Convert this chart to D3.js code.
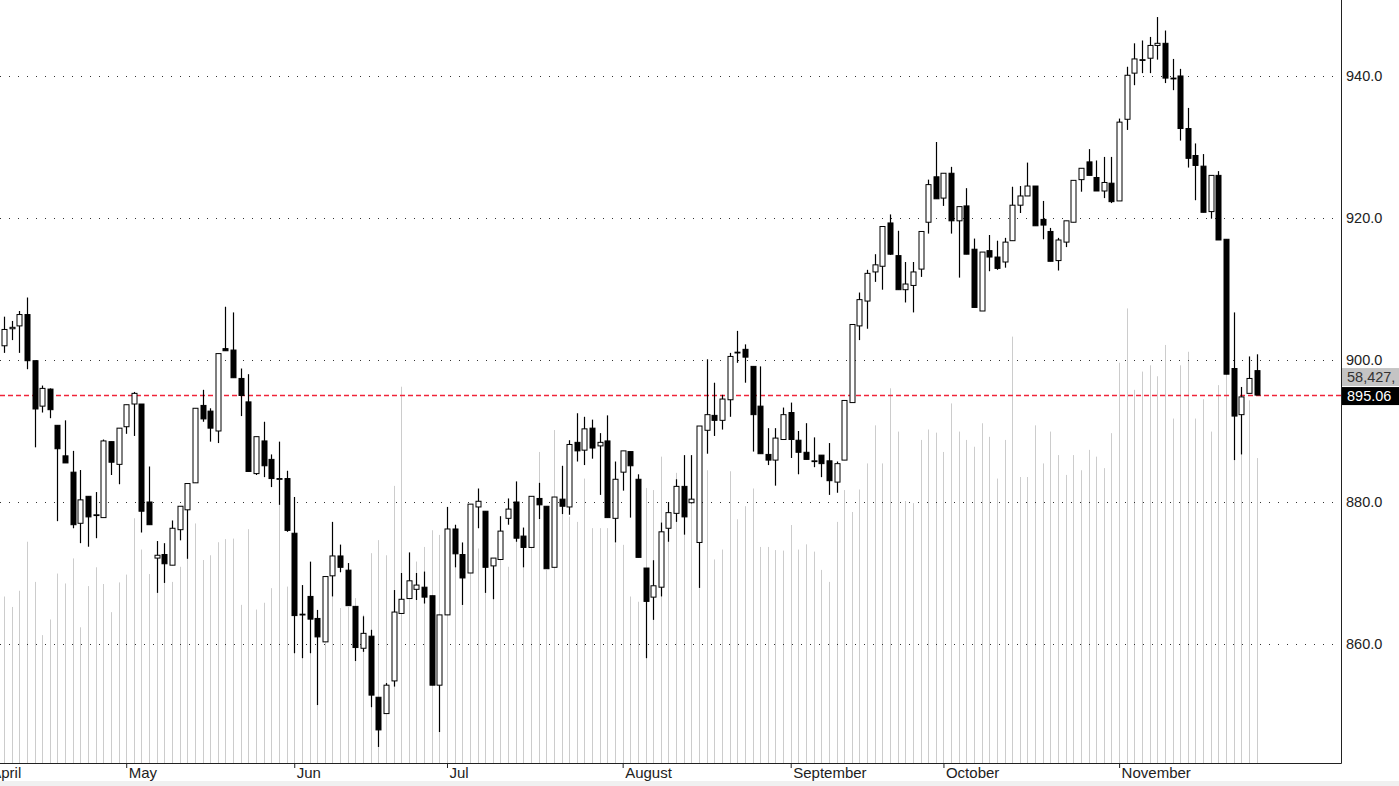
<!DOCTYPE html>
<html>
<head>
<meta charset="utf-8">
<script src="https://cdn.jsdelivr.net/npm/d3@7"></script>
<style>
  html, body { margin: 0; padding: 0; background: #ffffff; }
  svg { display: block; }
  text { font-family: "Liberation Sans", Arial, sans-serif; }
</style>
</head>
<body>
<svg id="chart" width="1399" height="786"></svg>
<script>
// ---------------- DATA ----------------
const monthLabels = ["April", "May", "Jun", "Jul", "August", "September", "October", "November"];
const monthStartIndex = [-2, 16, 38, 58, 81, 103, 123, 146];
const priceTicks = [860, 880, 900, 920, 940];

const opens = [
  902.0, 904.4, 904.8, 906.4, 899.9, 893.5, 895.9, 890.8, 886.5, 884.2,
  877.0, 880.8, 878.2, 877.8, 888.5, 885.3, 890.6, 893.8, 893.8, 880.0,
  872.1, 872.6, 871.1, 876.1, 878.9, 882.7, 893.6, 892.8, 890.0, 901.6,
  901.4, 897.4, 894.1, 884.0, 888.6, 886.0, 883.3, 883.3, 875.6, 864.2,
  866.7, 863.6, 860.3, 869.6, 872.4, 870.4, 865.3, 859.4, 861.1, 852.5,
  850.2, 854.8, 864.3, 866.4, 867.7, 868.0, 866.8, 854.2, 864.1, 876.2,
  872.6, 870.0, 879.3, 878.7, 871.0, 871.9, 877.7, 880.0, 875.2, 873.6,
  880.5, 879.4, 870.8, 880.4, 879.3, 888.4, 887.3, 890.4, 887.9, 888.6,
  877.7, 884.2, 887.1, 883.2, 870.7, 866.6, 868.0, 876.3, 878.4, 882.2,
  879.9, 874.3, 890.1, 892.2, 891.5, 894.4, 901.1, 901.5, 899.1, 893.5,
  886.7, 885.9, 888.8, 892.6, 888.7, 887.0, 885.8, 886.6, 885.8, 882.8,
  885.9, 894.0, 904.8, 908.3, 912.4, 913.2, 919.3, 914.7, 909.9, 910.5,
  912.8, 919.4, 925.8, 922.8, 926.3, 919.6, 921.7, 915.6, 906.9, 915.4,
  914.5, 913.8, 916.8, 921.8, 923.1, 924.5, 919.8, 918.1, 914.0, 916.6,
  919.4, 925.4, 927.9, 925.7, 923.8, 924.9, 922.4, 933.9, 940.4, 942.3,
  942.5, 944.3, 944.6, 939.7, 940.0, 932.6, 928.8, 927.3, 920.9, 926.0,
  917.0, 898.8, 892.3, 895.3, 898.5
];
const highs = [
  906.1, 905.5, 906.9, 908.8, 899.9, 896.4, 896.0, 890.8, 891.5, 887.2,
  884.5, 880.8, 881.4, 888.8, 888.5, 890.4, 893.7, 895.5, 893.8, 885.0,
  874.5, 874.2, 877.4, 879.4, 882.6, 893.2, 895.8, 893.2, 900.9, 907.5,
  906.7, 898.8, 898.0, 889.2, 891.3, 886.7, 888.5, 884.4, 880.7, 868.3,
  871.6, 864.8, 869.5, 877.2, 874.0, 871.4, 865.3, 863.9, 862.0, 852.5,
  854.5, 867.6, 870.0, 872.9, 870.0, 870.2, 866.8, 864.1, 879.3, 876.8,
  874.3, 879.7, 881.9, 878.7, 872.1, 878.0, 880.5, 882.9, 876.4, 880.8,
  882.7, 879.4, 880.7, 885.1, 888.7, 892.5, 892.0, 891.6, 889.7, 892.2,
  885.7, 887.2, 887.1, 883.9, 870.7, 871.8, 877.1, 880.0, 883.2, 886.6,
  886.6, 890.7, 900.1, 896.8, 895.1, 901.0, 904.1, 902.2, 899.1, 899.1,
  890.4, 890.4, 893.3, 894.0, 890.0, 891.1, 889.1, 886.6, 888.3, 885.7,
  894.3, 905.0, 909.5, 912.7, 914.9, 918.8, 920.5, 918.2, 913.8, 913.8,
  918.1, 925.4, 930.7, 926.3, 927.2, 921.6, 924.2, 917.1, 915.2, 917.6,
  916.8, 917.2, 924.4, 924.5, 927.8, 924.5, 922.4, 918.6, 917.2, 919.6,
  925.3, 927.0, 929.7, 928.1, 928.6, 928.6, 934.0, 941.3, 944.6, 945.0,
  945.5, 948.3, 946.4, 942.4, 941.0, 935.5, 930.5, 929.0, 926.0, 926.6,
  917.0, 906.7, 896.2, 900.5, 900.8
];
const lows = [
  901.0, 902.8, 901.0, 898.7, 887.7, 892.6, 891.8, 877.3, 885.5, 876.3,
  874.2, 873.7, 874.9, 877.8, 883.8, 882.5, 889.6, 889.3, 875.7, 876.8,
  867.2, 868.6, 871.1, 874.6, 872.0, 882.7, 891.3, 888.5, 888.3, 901.3,
  897.5, 892.1, 884.3, 883.8, 883.5, 882.1, 879.6, 875.8, 858.7, 858.0,
  858.7, 851.4, 860.3, 866.7, 870.1, 865.4, 857.6, 858.9, 851.1, 845.5,
  850.2, 854.0, 864.3, 866.4, 866.2, 865.7, 854.2, 847.6, 864.1, 870.8,
  865.5, 870.0, 876.3, 867.2, 866.3, 871.9, 876.8, 874.4, 870.8, 873.6,
  877.6, 870.6, 870.8, 878.3, 878.2, 885.7, 885.2, 886.1, 881.0, 877.8,
  874.3, 881.6, 877.8, 872.2, 858.0, 863.4, 866.7, 874.4, 877.2, 875.4,
  879.8, 867.9, 886.8, 889.3, 890.2, 892.0, 899.6, 896.8, 887.1, 886.8,
  885.2, 882.3, 888.8, 886.2, 883.9, 886.0, 884.9, 883.5, 881.0, 881.3,
  885.9, 894.0, 902.8, 904.4, 911.0, 909.9, 914.8, 909.9, 908.1, 906.7,
  911.7, 917.8, 922.7, 921.7, 917.8, 911.6, 914.9, 907.4, 906.9, 912.5,
  912.7, 913.0, 916.8, 920.7, 923.1, 918.9, 917.0, 913.9, 912.6, 915.9,
  919.4, 923.7, 926.0, 923.8, 922.8, 922.1, 922.4, 932.4, 938.7, 940.4,
  940.4, 942.3, 939.0, 938.0, 930.9, 927.1, 922.5, 920.8, 919.9, 916.9,
  898.0, 885.9, 886.7, 895.3, 895.06
];
const closes = [
  904.3, 904.6, 906.4, 899.9, 893.1, 896.0, 893.0, 887.5, 885.5, 876.8,
  880.3, 877.9, 878.2, 888.6, 885.6, 890.4, 893.7, 895.3, 878.7, 876.8,
  872.5, 871.3, 876.3, 879.4, 882.6, 893.2, 891.7, 890.4, 900.9, 901.3,
  897.5, 895.0, 884.3, 889.2, 885.1, 883.3, 883.3, 876.0, 864.0, 864.2,
  863.5, 861.0, 869.5, 872.4, 870.8, 865.4, 859.5, 861.5, 852.8, 847.9,
  854.2, 864.5, 866.3, 868.9, 868.3, 866.6, 854.2, 864.1, 876.2, 872.7,
  869.3, 879.7, 880.1, 870.8, 872.1, 875.9, 879.0, 874.9, 873.6, 880.8,
  879.6, 870.6, 880.7, 879.4, 888.1, 887.2, 890.3, 887.6, 888.4, 877.8,
  883.2, 887.2, 885.1, 872.2, 866.0, 868.2, 875.8, 878.5, 882.2, 877.9,
  880.4, 890.7, 892.3, 891.5, 894.5, 900.5, 901.1, 900.4, 892.3, 886.8,
  885.9, 889.0, 892.3, 888.8, 887.0, 886.0, 885.8, 885.4, 883.0, 885.4,
  894.3, 905.0, 908.5, 912.2, 913.4, 918.8, 914.9, 909.9, 910.7, 912.4,
  918.1, 924.7, 922.7, 926.3, 919.6, 921.6, 914.9, 907.4, 915.2, 914.5,
  912.9, 916.6, 921.8, 923.1, 924.5, 918.9, 919.0, 913.9, 916.9, 919.6,
  925.3, 927.0, 926.0, 923.8, 925.0, 922.3, 933.5, 940.1, 942.4, 942.3,
  944.3, 944.6, 939.7, 939.7, 932.6, 928.4, 927.4, 920.8, 926.0, 916.9,
  898.0, 892.1, 894.8, 897.4, 895.06
];
// volume, millions of shares
const volumes = [
  31.9, 29.9, 33.0, 42.4, 34.7, 24.5, 27.5, 36.3, 34.4, 39.2,
  26.0, 33.9, 37.5, 34.3, 28.9, 34.6, 36.1, 46.9, 40.9, 36.2,
  35.1, 37.9, 34.7, 37.6, 40.7, 45.9, 38.9, 39.8, 42.3, 42.9,
  43.0, 30.3, 44.8, 29.4, 30.7, 33.5, 51.3, 33.8, 51.0, 32.6,
  29.9, 27.4, 29.3, 35.4, 29.7, 29.9, 31.6, 28.4, 40.2, 42.7,
  39.8, 53.1, 72.1, 40.2, 38.6, 41.4, 44.6, 43.7, 49.1, 42.4,
  42.2, 41.8, 41.1, 39.8, 31.4, 38.9, 37.6, 53.3, 39.8, 42.7,
  59.6, 37.0, 63.8, 56.8, 47.2, 46.2, 54.5, 45.0, 45.0, 45.0,
  42.1, 41.8, 31.9, 30.9, 52.7, 52.3, 58.7, 49.8, 55.6, 58.9,
  58.9, 53.6, 56.1, 39.0, 40.9, 55.9, 46.7, 49.2, 52.6, 41.4,
  41.4, 40.8, 40.7, 45.6, 40.9, 41.9, 40.5, 37.0, 34.7, 46.2,
  52.3, 48.1, 52.4, 57.4, 64.7, 57.4, 71.8, 63.5, 50.2, 49.8,
  61.9, 63.9, 63.3, 59.6, 68.9, 63.5, 61.9, 60.6, 65.1, 62.5,
  54.5, 61.9, 81.7, 54.8, 54.8, 64.7, 57.4, 63.5, 59.0, 55.2,
  59.0, 56.1, 60.0, 58.7, 56.5, 63.2, 76.7, 87.1, 71.5, 75.0,
  76.2, 74.1, 80.1, 66.0, 76.2, 78.8, 66.0, 69.7, 63.5, 72.4,
  77.2, 75.3, 68.6, 69.5, 58.427
];

// ---------------- LAYOUT ----------------
const W = 1399, H = 786;
const plotRight = 1341;   // right axis line
const plotBottom = 763;   // bottom axis line
const N = closes.length;

const svg = d3.select("#chart");
svg.append("rect").attr("x", 0).attr("y", 0).attr("width", W).attr("height", H).attr("fill", "#ffffff");
svg.append("rect").attr("x", 0).attr("y", 781).attr("width", W).attr("height", 5).attr("fill", "#f0f0f0");

const x = d3.scaleLinear().domain([0, N - 1]).range([4, 1256.6]);
const yPrice = d3.scaleLinear().domain([843.24, 950.70]).range([plotBottom, 0]);
const yVol = d3.scaleLinear().domain([0, 146.2]).range([plotBottom, 0]);
const px = i => Math.round(x(i)) + 0.5;

const plot = svg.append("g");
plot.append("clipPath").attr("id", "clip")
  .append("rect").attr("x", 0).attr("y", 0).attr("width", plotRight).attr("height", plotBottom);
const g = plot.append("g").attr("clip-path", "url(#clip)");

// volume bars
g.append("g").selectAll("line").data(volumes).join("line")
  .attr("x1", (d, i) => px(i)).attr("x2", (d, i) => px(i))
  .attr("y1", plotBottom).attr("y2", d => yVol(d))
  .attr("stroke", "#cccccc").attr("stroke-width", 1);

// grid lines
g.append("g").selectAll("line").data(priceTicks).join("line")
  .attr("x1", 0).attr("x2", plotRight)
  .attr("y1", d => Math.round(yPrice(d)) + 0.5).attr("y2", d => Math.round(yPrice(d)) + 0.5)
  .attr("stroke", "#333").attr("stroke-width", 1).attr("stroke-dasharray", "1,8");

// last price line
const lastClose = closes[N - 1];
g.append("line")
  .attr("x1", 0).attr("x2", plotRight)
  .attr("y1", Math.round(yPrice(lastClose)) + 0.5).attr("y2", Math.round(yPrice(lastClose)) + 0.5)
  .attr("stroke", "#f0243a").attr("stroke-width", 1.3).attr("stroke-dasharray", "5,3");

// candles
const idx = d3.range(N);
const candles = g.append("g").selectAll("g").data(idx).join("g");
candles.append("line")
  .attr("x1", i => px(i)).attr("x2", i => px(i))
  .attr("y1", i => yPrice(highs[i])).attr("y2", i => yPrice(lows[i]))
  .attr("stroke", "#000").attr("stroke-width", 1.2);
candles.append("rect")
  .attr("x", i => px(i) - 2.5)
  .attr("width", 5)
  .attr("y", i => yPrice(Math.max(opens[i], closes[i])))
  .attr("height", i => Math.max(0.8, yPrice(Math.min(opens[i], closes[i])) - yPrice(Math.max(opens[i], closes[i]))))
  .attr("fill", i => closes[i] >= opens[i] ? "#ffffff" : "#000000")
  .attr("stroke", "#000").attr("stroke-width", 1);

// axes lines
svg.append("line").attr("x1", plotRight + 0.5).attr("x2", plotRight + 0.5).attr("y1", 0).attr("y2", plotBottom + 0.5)
  .attr("stroke", "#222").attr("stroke-width", 1);
svg.append("line").attr("x1", 0).attr("x2", plotRight + 0.5).attr("y1", plotBottom + 0.5).attr("y2", plotBottom + 0.5)
  .attr("stroke", "#222").attr("stroke-width", 1);

// right price axis
const yAxis = d3.axisRight(yPrice).tickValues(priceTicks).tickSize(0).tickPadding(5).tickFormat(d3.format(".1f"));
const ya = svg.append("g").attr("transform", `translate(${plotRight},0)`).call(yAxis);
ya.select(".domain").remove();
ya.selectAll("text").attr("font-size", 14.5).attr("fill", "#222").attr("font-family", "Liberation Sans, Arial, sans-serif");

// bottom month axis
const xAxis = d3.axisBottom(x).tickValues(monthStartIndex).tickSize(5).tickFormat((d, i) => monthLabels[i]);
const xa = svg.append("g").attr("transform", `translate(0,${plotBottom})`).call(xAxis);
xa.select(".domain").remove();
xa.selectAll(".tick line").attr("stroke", "#222");
xa.selectAll(".tick text")
  .attr("text-anchor", "start").attr("x", 2).attr("y", 3).attr("dy", "0.78em")
  .attr("font-size", 15).attr("fill", "#222").attr("font-family", "Liberation Sans, Arial, sans-serif");

// last-value labels
const lastY = yPrice(lastClose);
const volLabel = d3.format(",")(Math.round(volumes[N - 1] * 1000)) + ",";
svg.append("rect").attr("x", plotRight + 1).attr("y", lastY - 27).attr("width", W - plotRight).attr("height", 18).attr("fill", "#c4c4c4");
svg.append("text").attr("x", plotRight + 6).attr("y", lastY - 13).text(volLabel)
  .attr("font-size", 14.5).attr("fill", "#333");
svg.append("rect").attr("x", plotRight + 1).attr("y", lastY - 8).attr("width", W - plotRight).attr("height", 18).attr("fill", "#000");
svg.append("text").attr("x", plotRight + 6).attr("y", lastY + 6).text(d3.format(".2f")(lastClose))
  .attr("font-size", 14.5).attr("fill", "#fff");
</script>
</body>
</html>
